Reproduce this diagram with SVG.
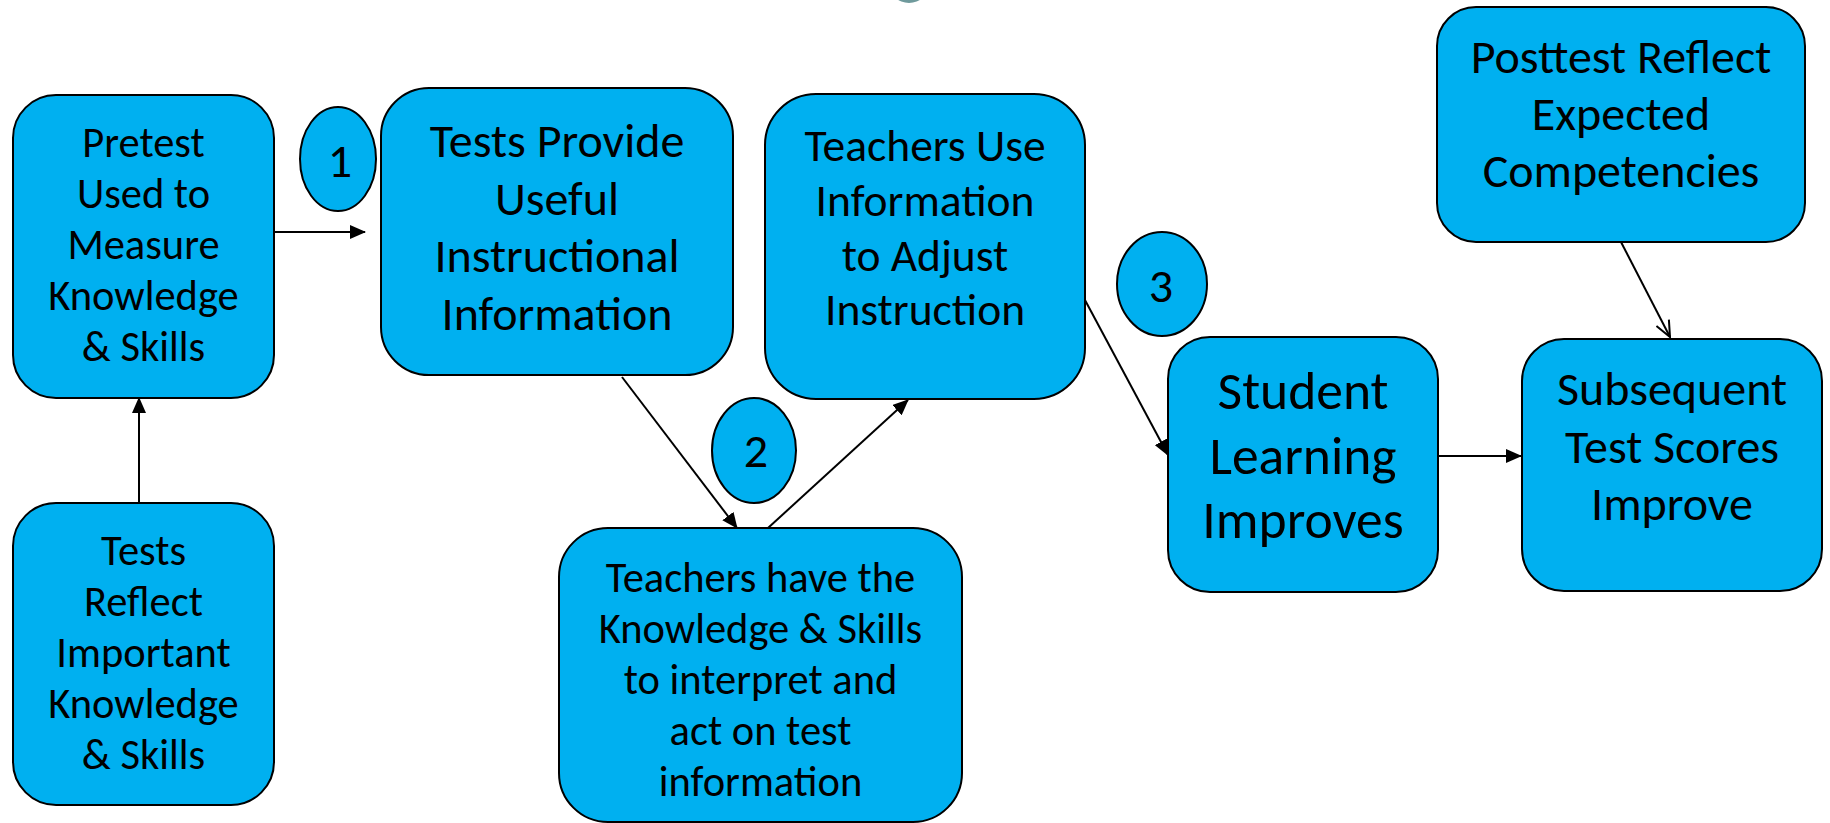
<svg xmlns="http://www.w3.org/2000/svg" width="1830" height="823" viewBox="0 0 1830 823">
<style>
.box{fill:#00B0F0;stroke:#000;stroke-width:2}
.t{font-family:Carlito,Lato,"Liberation Sans",sans-serif;fill:#000;text-anchor:middle}
.s42{font-size:42.5px}.s45{font-size:45.5px}.s47{font-size:48px}.s53{font-size:53.5px}
.c{fill:none;stroke:#000;stroke-width:2}
</style>
<defs>
<marker id="ah" viewBox="0 0 16 14" refX="15" refY="7" markerWidth="16" markerHeight="14" markerUnits="userSpaceOnUse" orient="auto"><path d="M0,0 L16,7 L0,14 Z" fill="#000"/></marker>
<marker id="oh" viewBox="0 0 18 16" refX="17" refY="8" markerWidth="18" markerHeight="16" markerUnits="userSpaceOnUse" orient="auto"><path d="M1,1 L17,8 L1,15" fill="none" stroke="#000" stroke-width="2"/></marker>
</defs>
<ellipse cx="909" cy="-16" rx="20" ry="19" fill="#6f9a9c"/>
<g id="connectors">
<line class="c" x1="274" y1="232" x2="365" y2="232" marker-end="url(#ah)"/>
<line class="c" x1="139" y1="503" x2="139" y2="398" marker-end="url(#ah)"/>
<line class="c" x1="622" y1="377" x2="737" y2="528" marker-end="url(#ah)"/>
<line class="c" x1="768" y1="528" x2="908" y2="400" marker-end="url(#ah)"/>
<line class="c" x1="1078" y1="287" x2="1168" y2="455" marker-end="url(#ah)"/>
<line class="c" x1="1438" y1="456" x2="1521" y2="456" marker-end="url(#ah)"/>
<line class="c" x1="1621" y1="242" x2="1670" y2="337" marker-end="url(#oh)"/>
</g>
<g id="pretest">
<rect class="box" x="13" y="95" width="261" height="303" rx="43"/>
<text class="t s42"><tspan x="143.5" y="157">Pretest</tspan><tspan x="143.5" y="208">Used to</tspan><tspan x="143.5" y="259">Measure</tspan><tspan x="143.5" y="310">Knowledge</tspan><tspan x="143.5" y="361">&amp; Skills</tspan></text>
</g>
<g id="tests-reflect">
<rect class="box" x="13" y="503" width="261" height="302" rx="43"/>
<text class="t s42"><tspan x="143.5" y="565">Tests</tspan><tspan x="143.5" y="616">Reflect</tspan><tspan x="143.5" y="667">Important</tspan><tspan x="143.5" y="718">Knowledge</tspan><tspan x="143.5" y="769">&amp; Skills</tspan></text>
</g>
<g id="circle-1">
<ellipse class="box" cx="338" cy="159" rx="38" ry="52"/>
<text class="t s47" x="340" y="177">1</text>
</g>
<g id="tests-provide">
<rect class="box" x="381" y="88" width="352" height="287" rx="48"/>
<text class="t s47"><tspan x="557" y="157">Tests Provide</tspan><tspan x="557" y="214.5">Useful</tspan><tspan x="557" y="272">Instructional</tspan><tspan x="557" y="329.5">Information</tspan></text>
</g>
<g id="circle-2">
<ellipse class="box" cx="754" cy="450.5" rx="42" ry="52.5"/>
<text class="t s47" x="756" y="467">2</text>
</g>
<g id="teachers-have">
<rect class="box" x="559" y="528" width="403" height="294" rx="49"/>
<text class="t s42"><tspan x="760.5" y="592">Teachers have the</tspan><tspan x="760.5" y="643">Knowledge &amp; Skills</tspan><tspan x="760.5" y="694">to interpret and</tspan><tspan x="760.5" y="745">act on test</tspan><tspan x="760.5" y="796">information</tspan></text>
</g>
<g id="teachers-use">
<rect class="box" x="765" y="94" width="320" height="305" rx="51"/>
<text class="t s45"><tspan x="925" y="161">Teachers Use</tspan><tspan x="925" y="216">Information</tspan><tspan x="925" y="271">to Adjust</tspan><tspan x="925" y="325">Instruction</tspan></text>
</g>
<g id="circle-3">
<ellipse class="box" cx="1162" cy="284" rx="45" ry="52"/>
<text class="t s47" x="1161" y="302">3</text>
</g>
<g id="student-learning">
<rect class="box" x="1168" y="337" width="270" height="255" rx="42"/>
<text class="t s53"><tspan x="1303" y="409">Student</tspan><tspan x="1303" y="473.5">Learning</tspan><tspan x="1303" y="538">Improves</tspan></text>
</g>
<g id="subsequent">
<rect class="box" x="1522" y="339" width="300" height="252" rx="42"/>
<text class="t s47"><tspan x="1672" y="405">Subsequent</tspan><tspan x="1672" y="462.5">Test Scores</tspan><tspan x="1672" y="520">Improve</tspan></text>
</g>
<g id="posttest">
<rect class="box" x="1437" y="7" width="368" height="235" rx="39"/>
<text class="t s47"><tspan x="1621" y="73">Posttest Reflect</tspan><tspan x="1621" y="130">Expected</tspan><tspan x="1621" y="187">Competencies</tspan></text>
</g>
</svg>
